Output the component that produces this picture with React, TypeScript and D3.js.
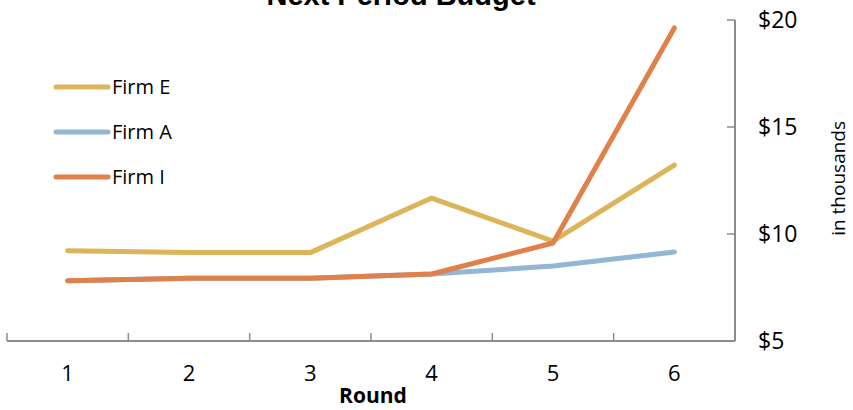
import { useEffect, useRef } from "react";
import * as d3 from "d3";

const rounds = ["1", "2", "3", "4", "5", "6"];
const firmE = [9.22, 9.13, 9.13, 11.68, 9.67, 13.22];
const firmA = [7.82, 7.93, 7.93, 8.13, 8.5, 9.16];
const firmI = [7.82, 7.93, 7.93, 8.13, 9.58, 19.63];
const yTicks = [5, 10, 15, 20];

const series = [
  { name: "Firm E", values: firmE, color: "#DCB45A" },
  { name: "Firm A", values: firmA, color: "#94B6D6" },
  { name: "Firm I", values: firmI, color: "#E0804A" },
];

export default function App() {
  const svgRef = useRef<SVGSVGElement>(null);

  useEffect(() => {
    if (!svgRef.current) return;
    const svg = d3.select(svgRef.current);
    svg.selectAll("*").remove();

    const width = 853;
    const height = 410;
    const left = 7;
    const right = 735;
    const top = 20;
    const bottom = 341;
    const font = "'Open Sans', Lato, sans-serif";
    const axisColor = "#8c8c8c";

    const x = d3.scaleBand().domain(rounds).range([left, right]);
    const y = d3.scaleLinear().domain([5, 20]).range([bottom, top]);

    svg.attr("width", width).attr("height", height);

    // title (cut off at the top in the original)
    svg
      .append("text")
      .attr("x", 401)
      .attr("y", 5)
      .attr("text-anchor", "middle")
      .attr("font-family", "'Liberation Sans', Arial, sans-serif")
      .attr("font-weight", "bold")
      .attr("font-size", 29)
      .attr("fill", "#000")
      .text("Next Period Budget");

    // x axis
    const g = svg.append("g");
    g.append("line")
      .attr("x1", left)
      .attr("x2", right)
      .attr("y1", bottom)
      .attr("y2", bottom)
      .attr("stroke", axisColor)
      .attr("stroke-width", 2);

    const edges = rounds.map((r) => x(r)!).concat([right]);
    edges.forEach((ex) => {
      g.append("line")
        .attr("x1", ex)
        .attr("x2", ex)
        .attr("y1", bottom)
        .attr("y2", bottom - 8)
        .attr("stroke", axisColor)
        .attr("stroke-width", 1.5);
    });

    rounds.forEach((r) => {
      g.append("text")
        .attr("x", x(r)! + x.bandwidth() / 2)
        .attr("y", 373)
        .attr("dy", "0.35em")
        .attr("text-anchor", "middle")
        .attr("font-family", font)
        .attr("font-size", 22)
        .attr("fill", "#000")
        .text(r);
    });

    g.append("text")
      .attr("x", 373)
      .attr("y", 396)
      .attr("dy", "0.35em")
      .attr("text-anchor", "middle")
      .attr("font-family", font)
      .attr("font-weight", "bold")
      .attr("font-size", 21)
      .attr("fill", "#000")
      .text("Round");

    // right y axis
    g.append("line")
      .attr("x1", right)
      .attr("x2", right)
      .attr("y1", top)
      .attr("y2", bottom)
      .attr("stroke", axisColor)
      .attr("stroke-width", 2);

    yTicks.forEach((t) => {
      g.append("line")
        .attr("x1", right)
        .attr("x2", right - 8)
        .attr("y1", y(t))
        .attr("y2", y(t))
        .attr("stroke", axisColor)
        .attr("stroke-width", 1.5);
      g.append("text")
        .attr("x", 758)
        .attr("y", y(t))
        .attr("dy", "0.35em")
        .attr("font-family", font)
        .attr("font-size", 23)
        .attr("fill", "#000")
        .text(`$${t}`);
    });

    g.append("text")
      .attr("transform", `translate(838,${y(12.6)}) rotate(-90)`)
      .attr("dy", "0.35em")
      .attr("text-anchor", "middle")
      .attr("font-family", font)
      .attr("font-size", 19)
      .attr("fill", "#000")
      .text("in thousands");

    // lines
    const line = d3
      .line<number>()
      .x((_, i) => x(rounds[i])! + x.bandwidth() / 2)
      .y((d) => y(d));

    [series[1], series[0], series[2]].forEach((s) => {
      svg
        .append("path")
        .datum(s.values)
        .attr("fill", "none")
        .attr("stroke", s.color)
        .attr("stroke-width", 5)
        .attr("stroke-linecap", "round")
        .attr("stroke-linejoin", "round")
        .attr("d", line);
    });

    // legend
    series.forEach((s, i) => {
      const ly = 87 + i * 45;
      svg
        .append("line")
        .attr("x1", 56)
        .attr("x2", 108)
        .attr("y1", ly)
        .attr("y2", ly)
        .attr("stroke", s.color)
        .attr("stroke-width", 5)
        .attr("stroke-linecap", "round");
      svg
        .append("text")
        .attr("x", 112)
        .attr("y", ly)
        .attr("dy", "0.35em")
        .attr("font-family", font)
        .attr("font-size", 20)
        .attr("fill", "#000")
        .text(s.name);
    });
  }, []);

  return (
    <svg
      ref={svgRef}
      style={{ position: "absolute", left: 0, top: 0, background: "#fff" }}
    />
  );
}
